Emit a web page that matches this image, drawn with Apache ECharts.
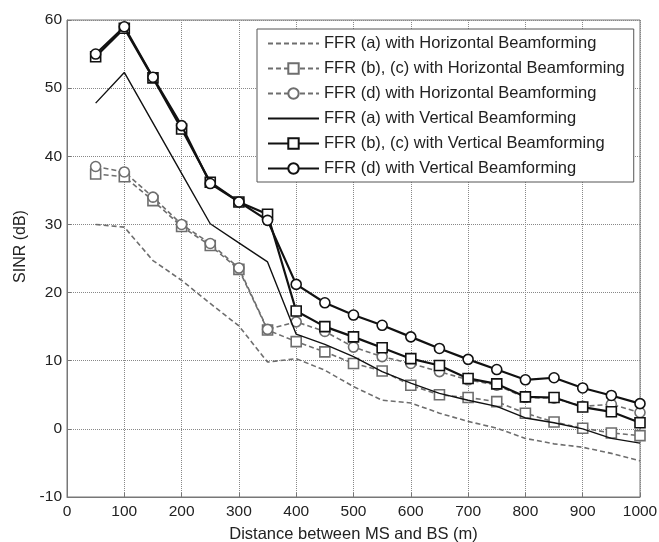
<!DOCTYPE html>
<html>
<head>
<meta charset="utf-8">
<script src="https://cdn.jsdelivr.net/npm/echarts@6/dist/echarts.min.js"></script>
<style>
html,body{margin:0;padding:0;background:#fff;}
#c{width:659px;height:542px;}
</style>
</head>
<body>
<div id="c"></div>
<script>
var distances = [50,100,150,200,250,300,350,400,450,500,550,600,650,700,750,800,850,900,950,1000];
var ffrA_H  = [30.0,29.6,24.7,21.8,18.4,15.1,9.8,10.3,8.6,6.2,4.2,3.8,2.3,1.1,0.1,-1.4,-2.2,-2.7,-3.6,-4.7];
var ffrBC_H = [37.4,37.0,33.5,29.7,26.9,23.4,14.5,12.8,11.3,9.6,8.5,6.4,5.0,4.6,4.0,2.3,1.0,0.1,-0.6,-1.0];
var ffrD_H  = [38.5,37.7,34.0,30.0,27.2,23.6,14.6,15.7,14.3,12.0,10.6,9.6,8.4,7.2,6.4,4.6,4.5,3.3,3.6,2.4];
var ffrA_V  = [47.8,52.3,44.9,37.5,30.1,27.3,24.5,13.9,12.4,10.6,8.4,6.7,5.2,4.2,3.3,1.6,0.9,0.0,-1.4,-2.1];
var ffrBC_V = [54.6,58.8,51.5,44.0,36.2,33.3,31.5,17.3,15.0,13.5,11.9,10.3,9.3,7.4,6.6,4.7,4.6,3.2,2.5,0.9];
var ffrD_V  = [55.0,59.0,51.6,44.5,36.0,33.3,30.6,21.2,18.5,16.7,15.2,13.5,11.8,10.2,8.7,7.2,7.5,6.0,4.9,3.7];
var seriesNames = [
  'FFR (a) with Horizontal Beamforming',
  'FFR (b), (c) with Horizontal Beamforming',
  'FFR (d) with Horizontal Beamforming',
  'FFR (a) with Vertical Beamforming',
  'FFR (b), (c) with Vertical Beamforming',
  'FFR (d) with Vertical Beamforming'
];
var xTicks = {min:0, max:1000, interval:100};
var yTicks = {min:-10, max:60, interval:10};

function pts(vals){ return distances.map(function(d,i){ return [d, vals[i]]; }); }

var gray = '#6e6e6e';
var black = '#111111';
var font = 'Liberation Sans, Arial, sans-serif';

function mk(name, vals, color, width, dash, symbol, z){
  return {
    name: name, type: 'line', data: pts(vals), z: z,
    symbol: symbol || 'none', symbolSize: 10, showSymbol: !!symbol,
    lineStyle: {color: color, width: width, type: dash},
    itemStyle: {color: '#fff', borderColor: color, borderWidth: 1.6},
    emphasis: {disabled: true}, animation: false
  };
}

var hidden = {color: 'rgba(0,0,0,0)', borderColor: 'rgba(0,0,0,0)', borderWidth: 0};
var legendData = seriesNames.map(function(n, i){
  return (i === 0 || i === 3) ? {name: n, itemStyle: hidden} : {name: n};
});

var chart = echarts.init(document.getElementById('c'), null, {renderer:'canvas'});
chart.setOption({
  animation: false,
  backgroundColor: '#fff',
  textStyle: {fontFamily: font},
  grid: {left: 67, right: 19, top: 20, bottom: 45, show: true, borderColor: '#777', borderWidth: 1, backgroundColor: 'transparent', containLabel: false, outerBoundsMode: 'none'},
  legend: {
    orient: 'vertical', left: 257, top: 29,
    itemWidth: 51, itemHeight: 13, itemGap: 8,
    padding: [6, 9, 5, 10],
    backgroundColor: '#fff', borderColor: '#555', borderWidth: 1,
    textStyle: {fontFamily: font, fontSize: 16.5, lineHeight: 16, color: '#222'},
    data: legendData
  },
  xAxis: {
    type: 'value', min: xTicks.min, max: xTicks.max, interval: xTicks.interval,
    name: 'Distance between MS and BS (m)', nameLocation: 'middle', nameGap: 29,
    nameTextStyle: {fontFamily: font, fontSize: 16.5, color: '#222'},
    axisLine: {show: true, onZero: false, lineStyle: {color: '#777', width: 1}},
    axisTick: {show: true, inside: true, length: 4, lineStyle: {color: '#777'}},
    axisLabel: {fontFamily: font, fontSize: 15.5, color: '#222', margin: 7, formatter: function(v){ return String(v); }},
    splitLine: {show: true, lineStyle: {color: '#888', type: 'dotted', width: 1}}
  },
  yAxis: {
    type: 'value', min: yTicks.min, max: yTicks.max, interval: yTicks.interval,
    name: 'SINR (dB)', nameLocation: 'middle', nameGap: 38, nameRotate: 90,
    nameTextStyle: {fontFamily: font, fontSize: 16, color: '#222', padding: [0, 0, 0, 24]},
    axisLine: {show: true, onZero: false, lineStyle: {color: '#777', width: 1}},
    axisTick: {show: true, inside: true, length: 4, lineStyle: {color: '#777'}},
    axisLabel: {fontFamily: font, fontSize: 15.5, color: '#222', margin: 5},
    splitLine: {show: true, lineStyle: {color: '#888', type: 'dotted', width: 1}}
  },
  series: [
    mk(seriesNames[0], ffrA_H, gray, 1.6, [5,3], null, 2),
    mk(seriesNames[1], ffrBC_H, gray, 1.6, [5,3], 'rect', 3),
    mk(seriesNames[2], ffrD_H, gray, 1.6, [5,3], 'circle', 3),
    mk(seriesNames[3], ffrA_V, black, 1.4, 'solid', null, 4),
    mk(seriesNames[4], ffrBC_V, black, 2.2, 'solid', 'rect', 5),
    mk(seriesNames[5], ffrD_V, black, 2.2, 'solid', 'circle', 6)
  ]
});
</script>
</body>
</html>
